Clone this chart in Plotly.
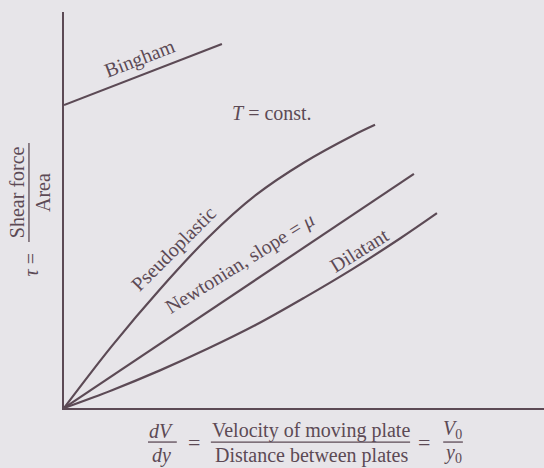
import plotly.graph_objects as go

# Rheology sketch: shear stress vs. rate of strain (arbitrary units)
bingham_x = [0.0, 3.29]
bingham_y = [7.65, 9.19]

newtonian_x = [0.0, 7.29]
newtonian_y = [0.0, 5.91]

pseudo_x = [0.0, 1.0, 2.0, 3.0, 4.0, 5.0, 6.0, 6.48]
pseudo_y = [0.0, 1.57, 3.0, 4.3, 5.38, 6.2, 6.87, 7.15]

dilatant_x = [0.0, 1.0, 2.0, 3.0, 4.0, 5.0, 6.0, 7.0, 7.77]
dilatant_y = [0.0, 0.45, 0.95, 1.5, 2.1, 2.78, 3.5, 4.28, 4.92]

INK = "#5c4a55"
BG = "#e7e5e9"
FONT = "Liberation Serif"

fig = go.Figure()
for xs, ys, shp in [
    (bingham_x, bingham_y, "linear"),
    (newtonian_x, newtonian_y, "linear"),
    (pseudo_x, pseudo_y, "spline"),
    (dilatant_x, dilatant_y, "spline"),
]:
    fig.add_trace(go.Scatter(x=xs, y=ys, mode="lines",
                             line=dict(color=INK, width=2.2, shape=shp, smoothing=1.0),
                             hoverinfo="skip", showlegend=False))

def lab(text, x, y, angle=0, ref="x", size=20):
    fig.add_annotation(text=text, x=x, y=y, xref=ref, yref=ref.replace("x", "y"),
                       textangle=angle, showarrow=False,
                       xanchor="center", yanchor="middle",
                       font=dict(family=FONT, size=size, color=INK))

# curve labels
lab("Bingham", 1.58, 8.83, -21)
lab("<i>T</i> = const.", 4.33, 7.45)
lab("Pseudoplastic", 2.3, 4.02, -45)
lab("Newtonian, slope = <i>μ</i>", 3.66, 3.66, -32)
lab("Dilatant", 6.16, 3.98, -32)

# y-axis label: tau = Shear force / Area
lab("Shear force", -0.098, 0.545, -90, ref="paper")
lab("Area", -0.044, 0.545, -90, ref="paper")
lab("<i>τ</i> =", -0.069, 0.362, -90, ref="paper")

# x-axis label: dV/dy = Velocity of moving plate / Distance between plates = V0/y0
lab("<i>dV</i>", 0.204, -0.058, ref="paper")
lab("<i>dy</i>", 0.204, -0.119, ref="paper")
lab("=", 0.271, -0.088, ref="paper", size=22)
lab("Velocity of moving plate", 0.515, -0.058, ref="paper")
lab("Distance between plates", 0.515, -0.119, ref="paper")
lab("=", 0.75, -0.088, ref="paper", size=22)
lab("<i>V</i><sub>0</sub>", 0.810, -0.055, ref="paper")
lab("<i>y</i><sub>0</sub>", 0.810, -0.116, ref="paper")

bars = [
    (-0.073, 0.419, -0.073, 0.669),
    (0.175, -0.086, 0.235, -0.086),
    (0.306, -0.086, 0.721, -0.086),
    (0.790, -0.086, 0.831, -0.086),
]
for x0, y0, x1, y1 in bars:
    fig.add_shape(type="line", xref="paper", yref="paper",
                  x0=x0, y0=y0, x1=x1, y1=y1,
                  line=dict(color=INK, width=1.3))

fig.update_xaxes(range=[0, 10], showline=True, linecolor=INK, linewidth=2,
                 showgrid=False, zeroline=False, showticklabels=False, ticks="")
fig.update_yaxes(range=[0, 10], showline=True, linecolor=INK, linewidth=2,
                 showgrid=False, zeroline=False, showticklabels=False, ticks="")

fig.update_layout(width=544, height=468,
                  margin=dict(l=64, r=0, t=12, b=60),
                  paper_bgcolor=BG, plot_bgcolor=BG)

fig.write_html("out.html")
